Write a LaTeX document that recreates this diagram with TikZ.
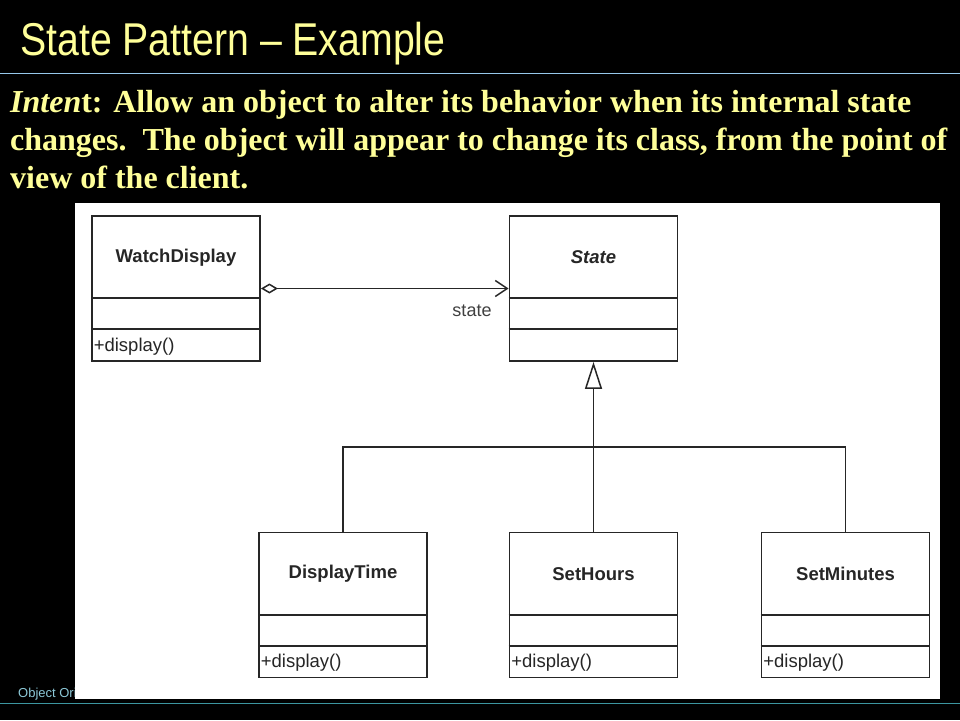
\documentclass[tikz,border=0pt]{standalone}
\usepackage{fontspec}
\setmainfont{Liberation Serif}
\setsansfont{Liberation Sans}
\usetikzlibrary{arrows.meta}
\definecolor{slideyellow}{RGB}{255,255,153}
\definecolor{ruleblue}{RGB}{150,200,235}
\definecolor{footteal}{RGB}{60,150,160}
\definecolor{foottext}{RGB}{140,200,215}
\tikzset{
  cls/.style={draw=black!85, line width=1.8pt, minimum width=168pt, minimum height=145pt, inner sep=0pt, fill=white},
  clsname/.style={font=\sffamily\bfseries\fontsize{18.5}{20}\selectfont, text=black!85},
  oper/.style={font=\sffamily\fontsize{18.5}{20}\selectfont, text=black!85, anchor=west, inner sep=2.5pt},
  conn/.style={draw=black!85, line width=1.8pt},
  bodyline/.style={anchor=base west, inner sep=0pt, text=slideyellow, font=\bfseries\fontsize{32}{38}\selectfont}
}
\begin{document}
\begin{tikzpicture}[x=1pt,y=-1pt]
\fill[black] (0,0) rectangle (960,720);
\useasboundingbox (0,0) rectangle (960,720);
% title
\node[anchor=base west, inner sep=0pt, text=slideyellow] (title) at (20,55)
  {\scalebox{0.853}[1]{\sffamily\fontsize{46}{50}\selectfont State Pattern – Example}};
\draw[ruleblue, line width=1pt] (0,73) -- (960,73);
% body text
\node[bodyline] (l1) at (10,112) {\textit{Inten}t: Allow an object to alter its behavior when its internal state};
\node[bodyline] (l2) at (10,150) {changes.\ \ The object will appear to change its class, from the point of};
\node[bodyline] (l3) at (10,188) {view of the client.};
% footer
\node[anchor=base west, inner sep=0pt, text=foottext, font=\sffamily\fontsize{13}{15}\selectfont] (foot) at (18,697) {Object Oriented};
\draw[footteal, line width=1.2pt] (0,703.5) -- (960,703.5);
% white picture area
\fill[white] (75,203) rectangle (940,699);
% classes
\node[cls] (wd) at (176,288.5) {};
\node[cls] (st) at (593.5,288.5) {};
\node[cls] (dt) at (343,605) {};
\node[cls] (sh) at (593.5,605) {};
\node[cls] (sm) at (845.5,605) {};
\foreach \c in {wd,st,dt,sh,sm}{
  \draw[conn] ([yshift=-83pt]\c.north west) -- ([yshift=-83pt]\c.north east);
  \draw[conn] ([yshift=-114pt]\c.north west) -- ([yshift=-114pt]\c.north east);
}
\node[clsname] (wdn) at ([yshift=-42.5pt]wd.north) {WatchDisplay};
\node[clsname] (stn) at ([yshift=-42.5pt]st.north) {\itshape State};
\node[clsname] (dtn) at ([yshift=-42.5pt]dt.north) {DisplayTime};
\node[clsname] (shn) at ([yshift=-42.5pt]sh.north) {SetHours};
\node[clsname] (smn) at ([yshift=-42.5pt]sm.north) {SetMinutes};
\node[oper] (wdo) at ([yshift=15.5pt]wd.south west) {+display()};
\node[oper] (dto) at ([yshift=15.5pt]dt.south west) {+display()};
\node[oper] (sho) at ([yshift=15.5pt]sh.south west) {+display()};
\node[oper] (smo) at ([yshift=15.5pt]sm.south west) {+display()};
% aggregation
\draw[conn, {Diamond[open, length=17pt, width=10pt, line width=1.5pt]}-{Straight Barb[length=12pt, width=16pt, line width=1.5pt]}] (wd) -- (st);
\node[font=\sffamily\fontsize{18}{20}\selectfont, text=black!75] (lbl) at (472,311) {state};
% inheritance
\coordinate (bus) at (0,447);
\draw[conn, -{Triangle[open, length=27pt, width=17pt, line width=1.5pt]}] (sh.north) -- (st.south);
\draw[conn] (dt.north) -- (dt.north |- bus) -- (sm.north |- bus) -- (sm.north);
\end{tikzpicture}
\end{document}
